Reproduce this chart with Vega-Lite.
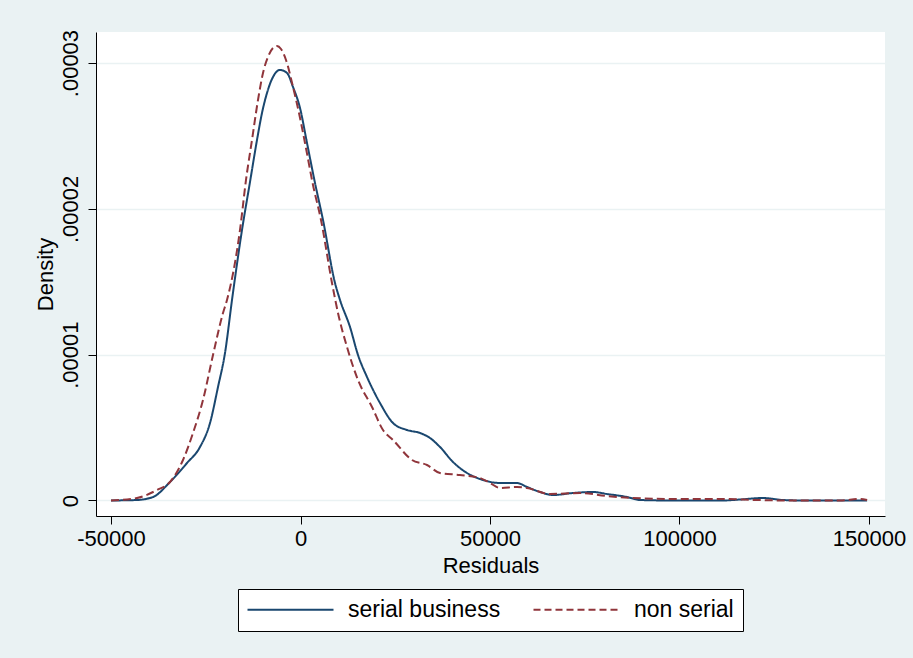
{
  "$schema": "https://vega.github.io/schema/vega-lite/v6.json",
  "width": 789,
  "height": 484,
  "autosize": {"type": "none"},
  "padding": {"left": 96, "top": 32, "right": 28, "bottom": 142},
  "background": "#EAF2F3",
  "config": {
    "view": {"fill": "white", "stroke": null},
    "font": "Liberation Sans",
    "axis": {
      "domainColor": "black",
      "domainWidth": 1,
      "tickColor": "black",
      "tickWidth": 1,
      "tickSize": 8,
      "labelColor": "black",
      "titleColor": "black",
      "labelFontSize": 22,
      "titleFontSize": 22,
      "titleFontWeight": "normal",
      "labelFont": "Liberation Sans",
      "titleFont": "Liberation Sans"
    }
  },
  "data": {
    "values": [
      {"group": "serial business", "residual": -50000, "density": 0},
      {"group": "serial business", "residual": -46306, "density": 0.000000014},
      {"group": "serial business", "residual": -43140, "density": 0.000000034},
      {"group": "serial business", "residual": -38917, "density": 0.00000024},
      {"group": "serial business", "residual": -34432, "density": 0.000001269},
      {"group": "serial business", "residual": -29946, "density": 0.000002572},
      {"group": "serial business", "residual": -26517, "density": 0.000003669},
      {"group": "serial business", "residual": -23878, "density": 0.000005315},
      {"group": "serial business", "residual": -21767, "density": 0.000007785},
      {"group": "serial business", "residual": -19920, "density": 0.000010117},
      {"group": "serial business", "residual": -18074, "density": 0.000013752},
      {"group": "serial business", "residual": -15435, "density": 0.000018553},
      {"group": "serial business", "residual": -13325, "density": 0.000021845},
      {"group": "serial business", "residual": -11478, "density": 0.000024726},
      {"group": "serial business", "residual": -10158, "density": 0.000026577},
      {"group": "serial business", "residual": -8839, "density": 0.000027949},
      {"group": "serial business", "residual": -7256, "density": 0.000029047},
      {"group": "serial business", "residual": -5409, "density": 0.000029527},
      {"group": "serial business", "residual": -3562, "density": 0.000029321},
      {"group": "serial business", "residual": -1979, "density": 0.000028361},
      {"group": "serial business", "residual": -132, "density": 0.00002692},
      {"group": "serial business", "residual": 1715, "density": 0.00002452},
      {"group": "serial business", "residual": 3826, "density": 0.000021776},
      {"group": "serial business", "residual": 5937, "density": 0.000019239},
      {"group": "serial business", "residual": 9103, "density": 0.000014918},
      {"group": "serial business", "residual": 10422, "density": 0.000013752},
      {"group": "serial business", "residual": 13061, "density": 0.0000119},
      {"group": "serial business", "residual": 15171, "density": 0.000009979},
      {"group": "serial business", "residual": 17546, "density": 0.00000847},
      {"group": "serial business", "residual": 20976, "density": 0.000006687},
      {"group": "serial business", "residual": 24406, "density": 0.000005315},
      {"group": "serial business", "residual": 28100, "density": 0.000004835},
      {"group": "serial business", "residual": 31530, "density": 0.00000463},
      {"group": "serial business", "residual": 34168, "density": 0.000004287},
      {"group": "serial business", "residual": 36807, "density": 0.000003669},
      {"group": "serial business", "residual": 40237, "density": 0.000002641},
      {"group": "serial business", "residual": 43931, "density": 0.000001886},
      {"group": "serial business", "residual": 48152, "density": 0.000001406},
      {"group": "serial business", "residual": 52638, "density": 0.0000012},
      {"group": "serial business", "residual": 57123, "density": 0.0000012},
      {"group": "serial business", "residual": 59762, "density": 0.000000926},
      {"group": "serial business", "residual": 63192, "density": 0.000000583},
      {"group": "serial business", "residual": 66622, "density": 0.000000377},
      {"group": "serial business", "residual": 71899, "density": 0.000000514},
      {"group": "serial business", "residual": 77176, "density": 0.000000583},
      {"group": "serial business", "residual": 80870, "density": 0.000000446},
      {"group": "serial business", "residual": 86147, "density": 0.00000024},
      {"group": "serial business", "residual": 89577, "density": 0.000000034},
      {"group": "serial business", "residual": 98284, "density": 0},
      {"group": "serial business", "residual": 111477, "density": 0},
      {"group": "serial business", "residual": 115963, "density": 0.000000069},
      {"group": "serial business", "residual": 122031, "density": 0.000000171},
      {"group": "serial business", "residual": 127308, "density": 0.000000034},
      {"group": "serial business", "residual": 132585, "density": 0},
      {"group": "serial business", "residual": 149500, "density": 0},
      {"group": "non serial", "residual": -50000, "density": 0},
      {"group": "non serial", "residual": -43140, "density": 0.000000171},
      {"group": "non serial", "residual": -37863, "density": 0.00000072},
      {"group": "non serial", "residual": -34432, "density": 0.000001269},
      {"group": "non serial", "residual": -31002, "density": 0.000002778},
      {"group": "non serial", "residual": -28364, "density": 0.00000463},
      {"group": "non serial", "residual": -25725, "density": 0.000006893},
      {"group": "non serial", "residual": -23087, "density": 0.000009979},
      {"group": "non serial", "residual": -20448, "density": 0.00001286},
      {"group": "non serial", "residual": -19393, "density": 0.000013752},
      {"group": "non serial", "residual": -15963, "density": 0.000018553},
      {"group": "non serial", "residual": -14380, "density": 0.000021982},
      {"group": "non serial", "residual": -12797, "density": 0.000024726},
      {"group": "non serial", "residual": -11214, "density": 0.000027469},
      {"group": "non serial", "residual": -9894, "density": 0.000029321},
      {"group": "non serial", "residual": -8575, "density": 0.000030418},
      {"group": "non serial", "residual": -7256, "density": 0.000031036},
      {"group": "non serial", "residual": -6201, "density": 0.000031173},
      {"group": "non serial", "residual": -5145, "density": 0.000030967},
      {"group": "non serial", "residual": -3826, "density": 0.000030213},
      {"group": "non serial", "residual": -1979, "density": 0.000028361},
      {"group": "non serial", "residual": -396, "density": 0.000026577},
      {"group": "non serial", "residual": 1187, "density": 0.00002452},
      {"group": "non serial", "residual": 3298, "density": 0.000021639},
      {"group": "non serial", "residual": 5409, "density": 0.000019239},
      {"group": "non serial", "residual": 8311, "density": 0.000014918},
      {"group": "non serial", "residual": 9894, "density": 0.00001286},
      {"group": "non serial", "residual": 12269, "density": 0.000010528},
      {"group": "non serial", "residual": 15171, "density": 0.000008265},
      {"group": "non serial", "residual": 18865, "density": 0.000006413},
      {"group": "non serial", "residual": 21767, "density": 0.000004835},
      {"group": "non serial", "residual": 24406, "density": 0.000004149},
      {"group": "non serial", "residual": 29419, "density": 0.000002778},
      {"group": "non serial", "residual": 33377, "density": 0.000002435},
      {"group": "non serial", "residual": 36807, "density": 0.000001886},
      {"group": "non serial", "residual": 42084, "density": 0.000001749},
      {"group": "non serial", "residual": 47361, "density": 0.000001543},
      {"group": "non serial", "residual": 50000, "density": 0.0000012},
      {"group": "non serial", "residual": 52638, "density": 0.000000857},
      {"group": "non serial", "residual": 57123, "density": 0.000000926},
      {"group": "non serial", "residual": 59762, "density": 0.000000857},
      {"group": "non serial", "residual": 65830, "density": 0.000000446},
      {"group": "non serial", "residual": 73745, "density": 0.000000514},
      {"group": "non serial", "residual": 80870, "density": 0.000000309},
      {"group": "non serial", "residual": 87730, "density": 0.000000171},
      {"group": "non serial", "residual": 98284, "density": 0.000000103},
      {"group": "non serial", "residual": 111477, "density": 0.000000103},
      {"group": "non serial", "residual": 120448, "density": 0.000000034},
      {"group": "non serial", "residual": 129155, "density": 0},
      {"group": "non serial", "residual": 142348, "density": 0},
      {"group": "non serial", "residual": 147625, "density": 0.000000103},
      {"group": "non serial", "residual": 149500, "density": 0.000000034}
    ]
  },
  "mark": {"type": "line", "strokeWidth": 2, "interpolate": "monotone"},
  "encoding": {
    "x": {
      "field": "residual",
      "type": "quantitative",
      "scale": {"domain": [-53958, 154222], "nice": false, "zero": false},
      "axis": {
        "title": "Residuals",
        "values": [-50000, 0, 50000, 100000, 150000],
        "labelExpr": "'' + datum.value",
        "grid": false,
        "labelPadding": 4,
        "titlePadding": 6,
        "labelFlush": false,
        "labelOverlap": false
      }
    },
    "y": {
      "field": "density",
      "type": "quantitative",
      "scale": {"domain": [-0.000001063, 0.00003213], "nice": false, "zero": false},
      "axis": {
        "title": "Density",
        "values": [0, 0.00001, 0.00002, 0.00003],
        "labelExpr": "replace('' + datum.value, '0.', '.')",
        "grid": true,
        "gridColor": "#EAF2F3",
        "gridWidth": 1.5,
        "labelAngle": -90,
        "labelAlign": "center",
        "labelBaseline": "bottom",
        "labelPadding": 6,
        "titlePadding": 2,
        "labelFlush": false,
        "labelOverlap": false
      }
    },
    "color": {
      "field": "group",
      "type": "nominal",
      "scale": {"domain": ["serial business", "non serial"], "range": ["#1A476F", "#90353B"]},
      "legend": {
        "title": null,
        "orient": "none",
        "legendX": 142,
        "legendY": 557,
        "direction": "horizontal",
        "fillColor": "white",
        "strokeColor": "black",
        "padding": 9,
        "symbolType": "M-1.1,0H7.5",
        "symbolSize": 400,
        "symbolStrokeWidth": 2,
        "labelFontSize": 23,
        "labelColor": "black",
        "labelOffset": 78,
        "columnPadding": 28,
        "labelLimit": 400,
        "encode": {
          "symbols": {
            "update": {
              "strokeDash": {"signal": "datum.value == 'non serial' ? [7, 4] : [1, 0]"}
            }
          }
        }
      }
    },
    "strokeDash": {
      "condition": {"test": "datum.group == 'non serial'", "value": [8, 4]},
      "value": [1, 0]
    }
  }
}
